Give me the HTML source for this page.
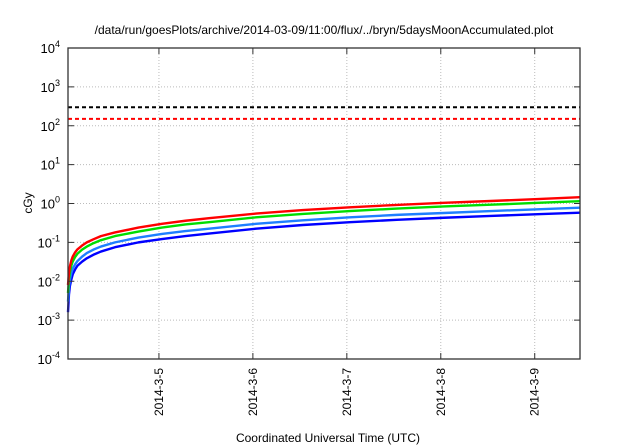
<!DOCTYPE html>
<html><head><meta charset="utf-8"><style>
body{margin:0;background:#fff;}
svg{display:block;font-family:"Liberation Sans",sans-serif;}
</style></head><body>
<svg id="chart" width="640" height="448">
<text x="324" y="34" font-size="12" text-anchor="middle">/data/run/goesPlots/archive/2014-03-09/11:00/flux/../bryn/5daysMoonAccumulated.plot</text>
<text x="328" y="442" font-size="12" text-anchor="middle">Coordinated Universal Time (UTC)</text>
<text transform="translate(32,203) rotate(-90)" font-size="12" text-anchor="middle">cGy</text>
<g id="grid"></g><g id="marks"></g><g id="axes"></g>
</svg>
<script>
const yExps=[-4,-3,-2,-1,0,1,2,3,4];
const xTickLabels=["2014-3-5","2014-3-6","2014-3-7","2014-3-8","2014-3-9"];
const xTickDays=[0.968,1.968,2.968,3.968,4.968];
const times=[0,0.01,0.02,0.035,0.05,0.075,0.1,0.15,0.2,0.27,0.35,0.5,0.75,1,1.25,1.5,2,2.5,3,3.5,4,4.5,5,5.45];
const redVals=[0.008,0.016,0.024,0.034,0.043,0.055,0.066,0.083,0.1,0.12,0.145,0.18,0.24,0.3,0.36,0.42,0.55,0.68,0.8,0.92,1.04,1.16,1.3,1.45];
const greenVals=[0.005,0.011,0.017,0.025,0.032,0.042,0.051,0.065,0.078,0.095,0.114,0.145,0.19,0.24,0.29,0.33,0.44,0.54,0.64,0.74,0.84,0.93,1.04,1.15];
const lightBlueVals=[0.003,0.007,0.011,0.016,0.021,0.027,0.033,0.043,0.053,0.065,0.078,0.1,0.133,0.165,0.195,0.225,0.3,0.37,0.44,0.51,0.57,0.64,0.71,0.78];
const blueVals=[0.0016,0.0045,0.0075,0.011,0.015,0.02,0.025,0.032,0.039,0.048,0.058,0.075,0.1,0.122,0.145,0.168,0.225,0.28,0.33,0.38,0.43,0.48,0.53,0.58];
const limitBlack=300, limitRed=150;
const L=68,R=580,T=48,B=359,XMAX=5.45;
const NS="http://www.w3.org/2000/svg";
const sx=t=>L+(R-L)*t/XMAX;
const sy=v=>B-(Math.log10(v)+4)*(B-T)/8;
function mk(tag,attrs,parent){const e=document.createElementNS(NS,tag);for(const k in attrs)e.setAttribute(k,attrs[k]);document.getElementById(parent).appendChild(e);return e;}
yExps.forEach(e=>{const y=sy(Math.pow(10,e));
 if(e>-4&&e<4){const g=mk('line',{x1:L,x2:R,y1:y,y2:y,stroke:'#bbb','stroke-dasharray':'1,2'},'grid');
 
 }
 const t=mk('text',{x:L-8,y:y+5,'font-size':13,'text-anchor':'end'},'axes');
 
 
 t.textContent='10';const s=document.createElementNS(NS,'tspan');s.setAttribute('dy','-6');s.setAttribute('font-size','9');s.textContent=e;t.appendChild(s);
 mk('line',{x1:L,x2:L+6,y1:y,y2:y,stroke:'#333'},'axes');mk('line',{x1:R,x2:R-6,y1:y,y2:y,stroke:'#333'},'axes');
});
xTickDays.forEach((d,i)=>{const x=sx(d);
 const g=mk('line',{x1:x,x2:x,y1:T,y2:B,stroke:'#bbb','stroke-dasharray':'1,2'},'grid');
 
 
 mk('line',{x1:x,x2:x,y1:B,y2:B-6,stroke:'#333'},'axes');mk('line',{x1:x,x2:x,y1:T,y2:T+6,stroke:'#333'},'axes');
 const t=mk('text',{transform:`translate(${x+4},${B+9}) rotate(-90)`,'font-size':12,'text-anchor':'end'},'axes');
 
 
 t.textContent=xTickLabels[i];
});
const f=mk('rect',{x:L,y:T,width:R-L,height:B-T,fill:'none',stroke:'#333','stroke-width':1.3},'axes');


const hb=mk('line',{x1:L,x2:R,y1:sy(limitBlack),y2:sy(limitBlack),stroke:'#000','stroke-width':2,'stroke-dasharray':'4,3'},'marks');


const hr=mk('line',{x1:L,x2:R,y1:sy(limitRed),y2:sy(limitRed),stroke:'#f00','stroke-width':2,'stroke-dasharray':'4,3'},'marks');


[[blueVals,'#0000ff','series-blue'],[lightBlueVals,'#1e7fff','series-light-blue'],[greenVals,'#00dd00','series-green'],[redVals,'#ff0000','series-red']].forEach(([vals,c,n])=>{
 const p=mk('polyline',{points:vals.map((v,i)=>sx(times[i])+','+sy(v)).join(' '),fill:'none',stroke:c,'stroke-width':2.4,'stroke-linejoin':'round'},'marks');
 
 
});
</script>
</body></html>
